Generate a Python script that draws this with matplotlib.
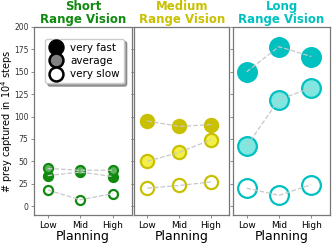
import matplotlib
matplotlib.use("Agg")
import matplotlib.pyplot as plt
from matplotlib.lines import Line2D

planning = ["Low", "Mid", "High"]
panels = ["Short\nRange Vision", "Medium\nRange Vision", "Long\nRange Vision"]
speeds = ["very fast", "average", "very slow"]

short_fast = [34, 38, 33]
short_avg = [42, 40, 40]
short_slow = [18, 7, 14]
medium_fast = [95, 89, 91]
medium_avg = [50, 60, 74]
medium_slow = [20, 23, 27]
long_fast = [150, 178, 167]
long_avg = [67, 119, 132]
long_slow = [20, 12, 24]

data = [
    [short_fast, short_avg, short_slow],
    [medium_fast, medium_avg, medium_slow],
    [long_fast, long_avg, long_slow],
]

edge_colors = ["#0f8a0f", "#c8c000", "#00c0c0"]
avg_fill = ["#5fb35f", "#f2f048", "#80e6e0"]
marker_sizes = [6.5, 9.5, 13.5]

fig = plt.figure(figsize=(3.34, 2.43), dpi=100)
rects = [
    [0.102, 0.115, 0.292, 0.774],
    [0.401, 0.115, 0.286, 0.774],
    [0.698, 0.115, 0.290, 0.774],
]

spine_col = "#777777"
for i, r in enumerate(rects):
    ax = fig.add_axes(r)
    x = list(range(len(planning)))
    ec = edge_colors[i]
    ms = marker_sizes[i]
    for j, series in enumerate(data[i]):
        if j == 0:
            fc = ec
        elif j == 1:
            fc = avg_fill[i]
        else:
            fc = "white"
        ax.plot(x, series, linestyle="none", marker="o", markersize=ms,
                markerfacecolor=fc, markeredgecolor=ec, markeredgewidth=1.6,
                zorder=2)
        ax.plot(x, series, linestyle="--", color="#c8c8c8", linewidth=0.9,
                zorder=3)
    ax.set_xlim(-0.42, 2.58)
    ax.set_ylim(-10, 200)
    ax.set_xticks(x)
    ax.set_xticklabels(planning, fontsize=6.5)
    ax.set_yticks([0, 25, 50, 75, 100, 125, 150, 175, 200])
    if i == 0:
        ax.tick_params(axis="y", labelsize=5.5, labelcolor="#333333")
        ax.set_ylabel("# prey captured in 10$^4$ steps", fontsize=7)
        ax.yaxis.set_label_coords(-0.2, 0.5)
    else:
        ax.tick_params(axis="y", labelleft=False)
    ax.tick_params(axis="both", length=2.5, width=0.6, color=spine_col, pad=1.5)
    ax.set_xlabel("Planning", fontsize=9, labelpad=0)
    for s in ax.spines.values():
        s.set_color(spine_col)
        s.set_linewidth(0.9)
    ax.set_title(panels[i], color=ec, fontsize=8.5, fontweight="bold",
                 linespacing=0.95, pad=3)
    if i == 0:
        handles = [
            Line2D([], [], linestyle="none", marker="o", markersize=10,
                   markerfacecolor="black", markeredgecolor="black", markeredgewidth=1.8),
            Line2D([], [], linestyle="none", marker="o", markersize=10,
                   markerfacecolor="#808080", markeredgecolor="black", markeredgewidth=1.8),
            Line2D([], [], linestyle="none", marker="o", markersize=10,
                   markerfacecolor="white", markeredgecolor="black", markeredgewidth=1.8),
        ]
        ax.legend(handles, speeds, loc="upper left", fontsize=7.5, frameon=True,
                  fancybox=True, shadow=True, handletextpad=0.7,
                  borderpad=0.4, labelspacing=0.3, handlelength=1.3,
                  bbox_to_anchor=(0.06, 0.965))

fig.savefig("out.png", dpi=100)
